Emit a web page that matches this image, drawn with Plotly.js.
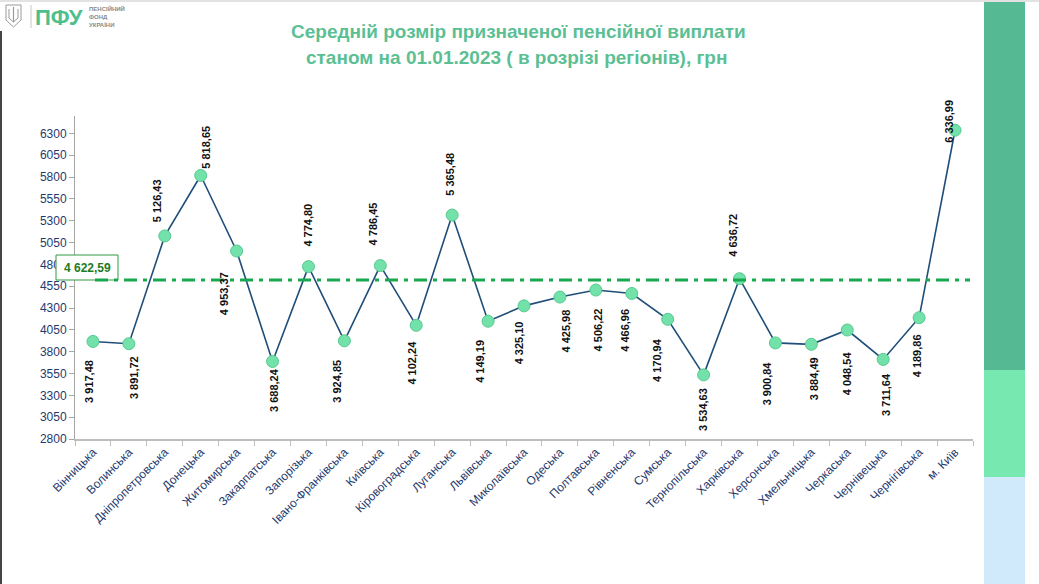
<!DOCTYPE html>
<html>
<head>
<meta charset="utf-8">
<script src="https://cdn.plot.ly/plotly-3.0.1.min.js"></script>
<style>html,body{margin:0;padding:0;background:#fff;}#chart{width:1039px;height:584px;}</style>
</head>
<body>
<div id="chart"></div>
<script>
// ---- data ----
const regions = ["Вінницька","Волинська","Дніпропетровська","Донецька","Житомирська","Закарпатська","Запорізька","Івано-Франківська","Київська","Кіровоградська","Луганська","Львівська","Миколаївська","Одеська","Полтавська","Рівненська","Сумська","Тернопільська","Харківська","Херсонська","Хмельницька","Черкаська","Чернівецька","Чернігівська","м. Київ"];
const pension = [3917.48,3891.72,5126.43,5818.65,4953.37,3688.24,4774.80,3924.85,4786.45,4102.24,5365.48,4149.19,4325.10,4425.98,4506.22,4466.96,4170.94,3534.63,4636.72,3900.84,3884.49,4048.54,3711.64,4189.86,6336.99];
const averagePension = 4622.59;
const yTicks = [2800,3050,3300,3550,3800,4050,4300,4550,4800,5050,5300,5550,5800,6050,6300];
const titleLines = ["Середній розмір призначеної пенсійної виплати","станом на 01.01.2023 ( в розрізі регіонів), грн"];
const logoText = "ПФУ";
const logoSub = ["ПЕНСІЙНИЙ","ФОНД","УКРАЇНИ"];

// ---- label placement (style) : [side, gap px, xshift px] ----
const labelPlace = [
  ['b',16,-4],['b',10,5],['a',12,-7],['a',5,5],['b',19,-13],['b',5,2],['a',18,0],['b',17,-7],
  ['a',18,-7],['b',13,-4],['a',17,-3],['b',17,-8],['b',14,-5],['b',10,6],['b',16,2],['b',13,-7],
  ['b',17,-10],['b',11,0],['a',20,-6],['b',16,-9],['b',11,2],['b',19,0],['b',12,3],['b',15,-2],['a',-15,-6]
];

function fmt(v){
  const s = v.toFixed(2).split('.');
  const intPart = s[0].replace(/\B(?=(\d{3})+(?!\d))/g,' ');
  return intPart + ',' + s[1];
}

// plot geometry in pixels
const L=75, R=973, T=116, B=439;
const px2x = p => (p-L)/(R-L);
const px2y = p => (B-p)/(B-T);

const annotations = [];
pension.forEach((v,i)=>{
  const [side,gap,xs] = labelPlace[i];
  annotations.push({
    x: regions[i], y: v, xref:'x', yref:'y', showarrow:false,
    text: fmt(v), textangle:-90,
    xanchor:'center', yanchor: side==='a' ? 'bottom' : 'top',
    yshift: side==='a' ? gap : -gap, xshift: xs,
    font:{family:'Liberation Sans, Arial, sans-serif', size:11, color:'#111', weight:700}
  });
});
// average label
annotations.push({
  x: px2x(87), y: px2y(267.5), xref:'paper', yref:'paper', showarrow:false,
  text: fmt(averagePension), xanchor:'center', yanchor:'middle',
  font:{family:'Liberation Sans, Arial, sans-serif', size:12, color:'#1e7d22', weight:700}
});
// title lines
annotations.push({
  x: px2x(518), y: px2y(31), xref:'paper', yref:'paper', showarrow:false,
  text: titleLines[0], xanchor:'center', yanchor:'middle',
  font:{family:'Liberation Sans, Arial, sans-serif', size:19, color:'#5cbf93', weight:700}
});
annotations.push({
  x: px2x(516), y: px2y(58), xref:'paper', yref:'paper', showarrow:false,
  text: titleLines[1], xanchor:'center', yanchor:'middle',
  font:{family:'Liberation Sans, Arial, sans-serif', size:19, color:'#5cbf93', weight:700}
});
// logo
annotations.push({
  x: px2x(34), y: px2y(17), xref:'paper', yref:'paper', showarrow:false,
  text: logoText, xanchor:'left', yanchor:'middle', borderpad:0,
  font:{family:'Liberation Sans, Arial, sans-serif', size:22, color:'#4dbf8c', weight:700}
});
annotations.push({
  x: px2x(88), y: px2y(16), xref:'paper', yref:'paper', showarrow:false,
  text: logoSub.join('<br>'), xanchor:'left', yanchor:'middle', align:'left', borderpad:0,
  font:{family:'Liberation Sans, Arial, sans-serif', size:6, color:'#8a8a8a', weight:700}
});

function pathFromPx(pts, close){
  let d = pts.map((p,k)=> (k?'L':'M') + px2x(p[0]).toFixed(5) + ',' + px2y(p[1]).toFixed(5)).join(' ');
  return close ? d+' Z' : d;
}

const shapes = [
  // right decorative bars
  {type:'rect', xref:'paper', yref:'paper', x0:px2x(984), x1:px2x(1025), y0:px2y(0), y1:px2y(370), fillcolor:'#55b994', line:{width:0}, layer:'above'},
  {type:'rect', xref:'paper', yref:'paper', x0:px2x(984), x1:px2x(1025), y0:px2y(370), y1:px2y(477), fillcolor:'#76e8b0', line:{width:0}, layer:'above'},
  {type:'rect', xref:'paper', yref:'paper', x0:px2x(984), x1:px2x(1025), y0:px2y(477), y1:px2y(584), fillcolor:'#d0eafb', line:{width:0}, layer:'above'},
  // page borders
  {type:'rect', xref:'paper', yref:'paper', x0:px2x(0), x1:px2x(1039), y0:px2y(0), y1:px2y(2), fillcolor:'#e2e2e2', line:{width:0}, layer:'above'},
  {type:'rect', xref:'paper', yref:'paper', x0:px2x(0), x1:px2x(2), y0:px2y(31), y1:px2y(584), fillcolor:'#444444', line:{width:0}, layer:'above'},
  // average box
  {type:'rect', xref:'paper', yref:'paper', x0:px2x(56), x1:px2x(118), y0:px2y(255), y1:px2y(280), fillcolor:'#ffffff', line:{color:'#2e9a3e', width:1}, layer:'above'},
  // average line
  {type:'line', xref:'paper', yref:'y', x0:px2x(95), x1:px2x(970), y0:averagePension, y1:averagePension, line:{color:'#19a84e', width:3, dash:'13px,6px,4px,6px'}, layer:'above'},
  // logo separator
  {type:'line', xref:'paper', yref:'paper', x0:px2x(31), x1:px2x(31), y0:px2y(5), y1:px2y(28), line:{color:'#c8c8c8', width:1}, layer:'above'},
  // trident emblem (simplified)
  {type:'path', xref:'paper', yref:'paper', path: pathFromPx([[6,5],[21,5],[21,20],[13.5,27],[6,20]], true), line:{color:'#9a9a9a', width:1}, fillcolor:'rgba(0,0,0,0)', layer:'above'},
  {type:'path', xref:'paper', yref:'paper', path: pathFromPx([[13.5,7],[13.5,22]]), line:{color:'#9a9a9a', width:1.2}, layer:'above'},
  {type:'path', xref:'paper', yref:'paper', path: pathFromPx([[9,9],[9,18],[13.5,22],[18,18],[18,9]]), line:{color:'#9a9a9a', width:1}, layer:'above'}
];

const trace = {
  type:'scatter', mode:'lines+markers', x: regions, y: pension,
  line:{color:'#1f4e79', width:1.6},
  marker:{size:12, color:'#72e2aa', line:{color:'#58c98f', width:1}},
  hoverinfo:'x+y', showlegend:false, cliponaxis:false
};

const layout = {
  width:1039, height:584,
  margin:{l:L, r:1039-R, t:T, b:584-B, pad:0},
  paper_bgcolor:'#ffffff', plot_bgcolor:'#ffffff',
  showlegend:false,
  xaxis:{
    type:'category', range:[-0.5, regions.length-0.5],
    showline:true, linecolor:'#bdbdbd', linewidth:1.5,
    ticks:'outside', tickson:'boundaries', ticklen:5, tickcolor:'#bdbdbd', tickwidth:1,
    tickangle:-45, showgrid:false, zeroline:false, automargin:false,
    tickfont:{family:'Liberation Sans, Arial, sans-serif', size:12, color:'#1f3a6e'}
  },
  yaxis:{
    range:[2800, 6500], tickvals:yTicks, ticktext:yTicks.map(String),
    showline:true, linecolor:'#a6a6a6', linewidth:1,
    ticks:'outside', ticklen:5, tickcolor:'#a6a6a6',
    showgrid:false, zeroline:false, automargin:false,
    tickfont:{family:'Liberation Sans, Arial, sans-serif', size:12, color:'#1f3a6e'}
  },
  shapes: shapes,
  annotations: annotations
};

Plotly.newPlot('chart', [trace], layout, {staticPlot:true, displayModeBar:false});
</script>
</body>
</html>
